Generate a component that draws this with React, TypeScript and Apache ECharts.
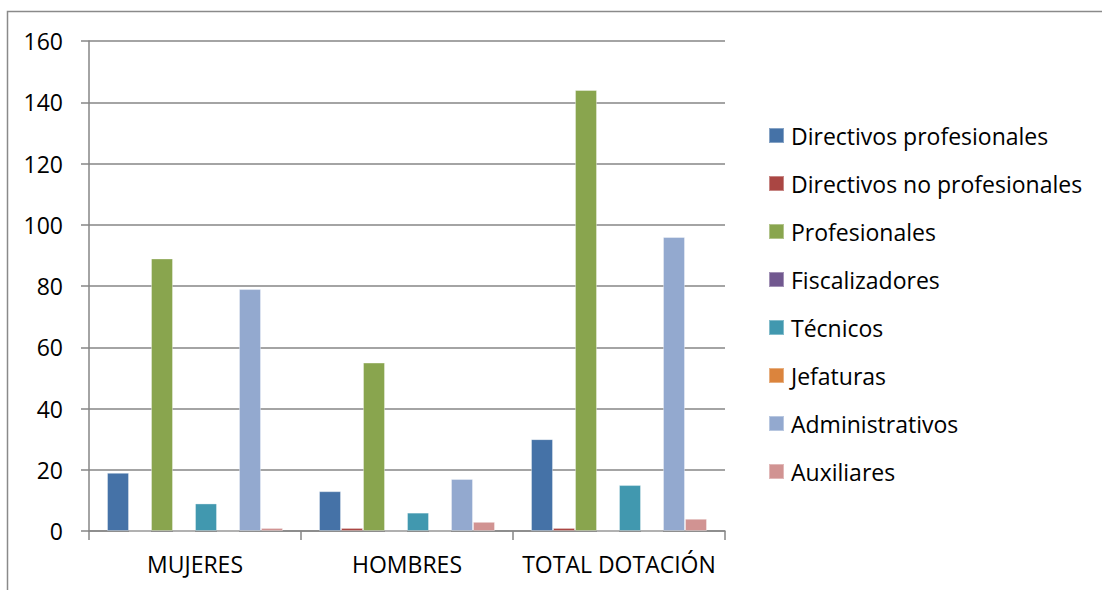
import React, { useEffect, useRef } from "react";
import * as echarts from "echarts";

const categories = ["MUJERES", "HOMBRES", "TOTAL DOTACIÓN"];
const seriesNames = [
  "Directivos profesionales",
  "Directivos no profesionales",
  "Profesionales",
  "Fiscalizadores",
  "Técnicos",
  "Jefaturas",
  "Administrativos",
  "Auxiliares",
];
const directivosProfesionales = [19, 13, 30];
const directivosNoProfesionales = [0, 1, 1];
const profesionales = [89, 55, 144];
const fiscalizadores = [0, 0, 0];
const tecnicos = [9, 6, 15];
const jefaturas = [0, 0, 0];
const administrativos = [79, 17, 96];
const auxiliares = [1, 3, 4];
const yTicks = [0, 20, 40, 60, 80, 100, 120, 140, 160];

const seriesValues = [
  directivosProfesionales,
  directivosNoProfesionales,
  profesionales,
  fiscalizadores,
  tecnicos,
  jefaturas,
  administrativos,
  auxiliares,
];
const colors = ["#4572A7", "#AA4643", "#89A54E", "#71588F", "#4198AF", "#DB843D", "#93A9CF", "#D19392"];

export default function App() {
  const ref = useRef<HTMLDivElement>(null);
  useEffect(() => {
    if (!ref.current) return;
    const chart = echarts.init(ref.current, null, { renderer: "svg" });
    const font = "'Open Sans', Lato, sans-serif";
    chart.setOption({
      animation: false,
      color: colors,
      textStyle: { fontFamily: font },
      graphic: [
        {
          type: "rect",
          shape: { x: 7.5, y: 11.5, width: 1200, height: 700 },
          style: { fill: "none", stroke: "#8a8a8a", lineWidth: 1.5 },
          silent: true,
        },
      ],
      legend: {
        orient: "vertical",
        left: 768,
        top: 124,
        padding: 0,
        itemWidth: 15,
        itemHeight: 15,
        itemGap: 25,
        icon: "rect",
        textStyle: { fontFamily: font, fontSize: 23, color: "#000", lineHeight: 23, padding: [0, 0, 0, 2] },
        data: seriesNames,
      },
      grid: { left: 89, right: 377, top: 41, bottom: 59, containLabel: false },
      xAxis: {
        type: "category",
        data: categories,
        boundaryGap: true,
        axisLine: { show: true, lineStyle: { color: "#868686", width: 1.5 } },
        axisTick: { show: true, length: 9, lineStyle: { color: "#868686", width: 1.5 } },
        axisLabel: { color: "#000", fontSize: 23, fontFamily: font, margin: 21, interval: 0 },
        splitLine: { show: false },
      },
      yAxis: {
        type: "value",
        min: yTicks[0],
        max: yTicks[yTicks.length - 1],
        interval: 20,
        axisLine: { show: true, lineStyle: { color: "#868686", width: 1.5 } },
        axisTick: { show: true, length: 8, lineStyle: { color: "#868686", width: 1.5 } },
        axisLabel: { color: "#000", fontSize: 23, fontFamily: font, margin: 26 },
        splitLine: { show: true, lineStyle: { color: "#868686", width: 1.5 } },
      },
      series: seriesNames.map((name, i) => ({
        name,
        type: "bar",
        data: seriesValues[i],
        barGap: "0%",
        barCategoryGap: "17%",
        itemStyle: { color: colors[i], borderColor: "rgba(255,255,255,0.35)", borderWidth: 1 },
      })),
    });
    return () => chart.dispose();
  }, []);
  return (
    <div
      ref={ref}
      style={{ position: "absolute", left: 0, top: 0, width: 1102, height: 590, background: "#fff" }}
    />
  );
}
